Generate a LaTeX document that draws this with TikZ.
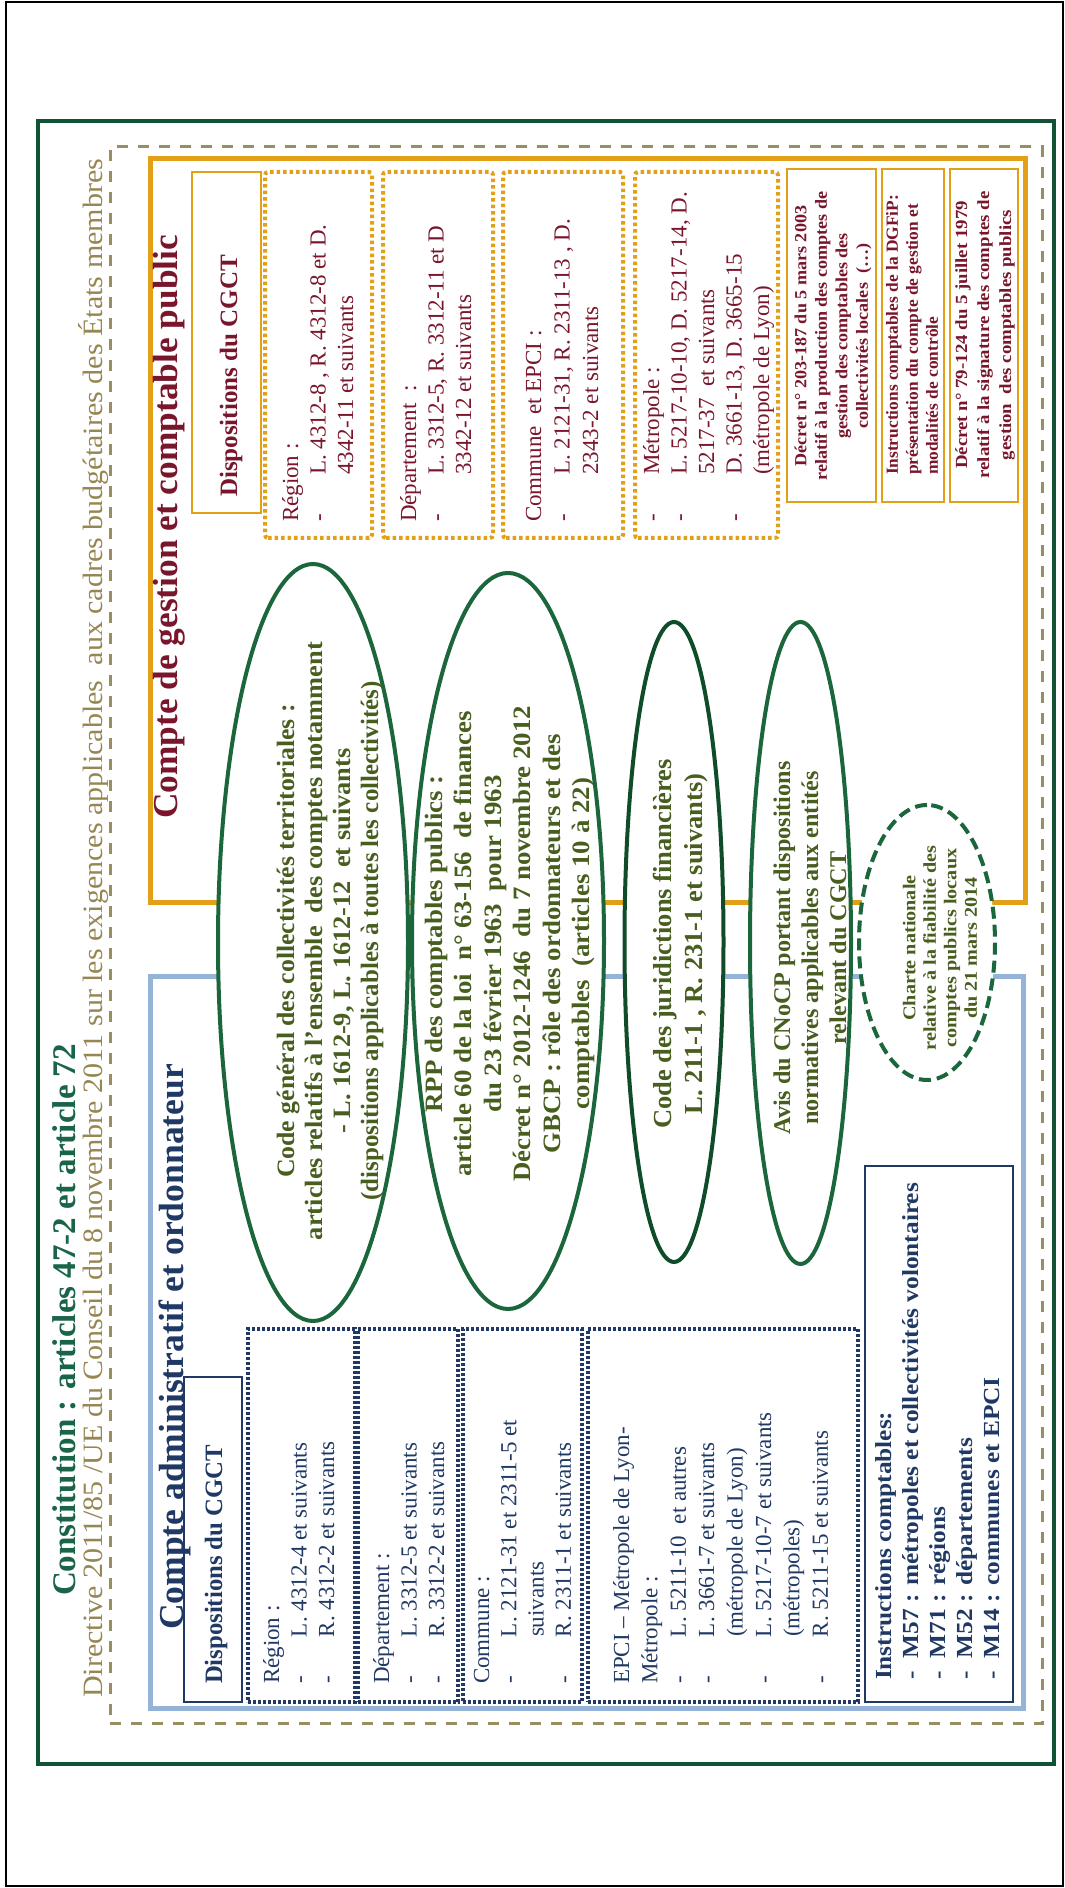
\documentclass[tikz,border=0pt]{standalone}
\usepackage{fontspec}
\setmainfont{Liberation Serif}
\usepackage{graphicx}
\usetikzlibrary{shapes.geometric}

\definecolor{frameG}{RGB}{18,82,52}
\definecolor{dashO}{RGB}{152,142,96}
\definecolor{titleG}{RGB}{26,100,72}
\definecolor{dirO}{RGB}{150,134,82}
\definecolor{navy}{RGB}{31,56,100}
\definecolor{lblue}{RGB}{149,179,215}
\definecolor{gold}{RGB}{226,160,24}
\definecolor{maroon}{RGB}{122,22,44}
\definecolor{eGreen}{RGB}{28,102,60}
\definecolor{eGreenD}{RGB}{14,76,42}
\definecolor{eText}{RGB}{72,94,30}

% text helpers
\newcommand{\fsz}[2]{\fontsize{#1}{#2}\selectfont}
\newcommand{\fitw}[2]{\resizebox{#1pt}{\height}{#2}}
\newcommand{\stackL}[2]{\vtop{\baselineskip=#1pt\lineskiplimit=-\maxdimen\lineskip=0pt\halign{##\hfil\cr#2\crcr}}}
\newcommand{\stackC}[2]{\vbox{\baselineskip=#1pt\lineskiplimit=-\maxdimen\lineskip=0pt\halign{\hfil##\hfil\cr#2\crcr}}}
\newcommand{\itm}[1][47]{\makebox[#1pt][l]{-}}
\newcommand{\cnt}[1][47]{\hspace*{#1pt}}

\tikzset{
  txt/.style={inner sep=0pt, outer sep=0pt},
  ell/.style={ellipse, draw=eGreen, line width=4pt, fill=white, inner sep=0pt},
  navydot/.style={draw=navy, line width=3.5pt, dash pattern=on 3pt off 2pt},
  golddot/.style={draw=gold, line width=4pt, dash pattern=on 3.5pt off 3pt, rounded corners=3pt},
  navythin/.style={draw=navy, line width=1.5pt},
  goldthin/.style={draw=gold, line width=1.5pt},
  navylist/.style={txt, anchor=base west, font=\fsz{23}{27.5}, text=navy},
  goldlist/.style={txt, anchor=base west, font=\fsz{23}{27.5}, text=maroon},
  etxt/.style={txt, text=eText},
  smallbox/.style={txt, font=\bfseries\fsz{17}{20.5}, text=maroon}
}

\begin{document}
\begin{tikzpicture}[x=1pt,y=1pt]
\useasboundingbox (0,0) rectangle (1065,1888);
\fill[white] (0,0) rectangle (1065,1888);
\draw[line width=2pt] (6,2) rectangle (1063,1886);

% the sheet is laid out in landscape and turned a quarter turn
\begin{scope}[rotate=90, transform shape]

% outer frames
\draw[frameG, line width=4.5pt] (124,-38) rectangle (1767,-1054);
\draw[dashO, line width=3pt, dash pattern=on 11pt off 10pt] (164,-110) rectangle (1741,-1042);

% the two panels
\draw[gold, line width=5pt] (985,-150) rectangle (1729,-1025);
\draw[lblue, line width=5pt] (179,-150) rectangle (911,-1023);

% headings
\node[txt, anchor=base west, font=\bfseries\fsz{33}{40}, text=titleG] (title) at (292,-75)
  {\fitw{552}{Constitution : articles 47-2 et article 72}};
\node[txt, anchor=base west, font=\fsz{28}{34}, text=dirO] (directive) at (190,-102)
  {\fitw{1539}{Directive 2011/85 /UE du Conseil du 8 novembre 2011 sur les exigences applicables~ aux cadres budgétaires des États membres}};
\node[txt, anchor=base west, font=\bfseries\fsz{35}{42}, text=navy] (admTitle) at (258,-183)
  {\fitw{566}{Compte administratif et ordonnateur}};
\node[txt, anchor=base west, font=\bfseries\fsz{35}{42}, text=maroon] (gesTitle) at (1069,-177)
  {\fitw{584}{Compte de gestion et comptable public}};

% ---- administrative account panel
\draw[navythin] (186,-184) rectangle (511,-242);
\node[txt, anchor=base west, font=\bfseries\fsz{25}{30}, text=navy] (admDisp) at (204,-222)
  {\fitw{239}{Dispositions du CGCT}};

\draw[navydot] (186,-248) rectangle (559,-355);
\draw[navydot] (186,-358) rectangle (559,-458);
\draw[navydot] (186,-463) rectangle (559,-582);
\draw[navydot] (186,-588) rectangle (559,-858);

\node[navylist] (admReg) at (204,-279)
  {\stackL{27.5}{Région :\cr\itm L. 4312-4 et suivants\cr\itm R. 4312-2 et suivants}};
\node[navylist] (admDep) at (204,-389)
  {\stackL{27.5}{Département :\cr\itm L. 3312-5 et suivants\cr\itm R. 3312-2 et suivants}};
\node[navylist] (admCom) at (204,-489)
  {\stackL{27.3}{Commune :\cr\itm L. 2121-31 et 2311-5 et\cr\cnt suivants\cr\itm R. 2311-1 et suivants}};
\node[navylist] (admEpci) at (204,-629)
  {\stackL{28.4}{EPCI – Métropole de Lyon-\cr Métropole :\cr\itm L. 5211-10~ et autres\cr\itm L. 3661-7 et suivants\cr\cnt (métropole de Lyon)\cr\itm L. 5217-10-7 et suivants\cr\cnt (métropoles)\cr\itm R. 5211-15 et suivants}};

\draw[navythin] (186,-865) rectangle (722,-1013);
\node[txt, anchor=base west, font=\bfseries\fsz{23}{27}, text=navy] (admInstr) at (208,-891)
  {\fitw{497}{\stackL{27}{Instructions comptables:\cr\itm[14] M57 : métropoles et collectivités volontaires\cr\itm[14] M71 : régions\cr\itm[14] M52 : départements\cr\itm[14] M14 : communes et EPCI}}};

% ---- management account panel
\draw[goldthin] (1375,-192) rectangle (1716,-261);
\node[txt, anchor=base west, font=\bfseries\fsz{25}{30}, text=maroon] (gesDisp) at (1391,-237)
  {\fitw{242}{Dispositions du CGCT}};

\draw[golddot] (1350,-265) rectangle (1716,-372);
\draw[golddot] (1350,-383) rectangle (1716,-493);
\draw[golddot] (1350,-503) rectangle (1716,-623);
\draw[golddot] (1350,-635) rectangle (1716,-778);

\node[goldlist] (gesReg) at (1366,-298)
  {\stackL{27.5}{Région :\cr\itm L. 4312-8 , R. 4312-8 et D.\cr\cnt 4342-11 et suivants}};
\node[goldlist] (gesDep) at (1366,-416)
  {\stackL{27.5}{Département~ :\cr\itm L. 3312-5, R. 3312-11 et D\cr\cnt 3342-12 et suivants}};
\node[goldlist] (gesCom) at (1366,-541)
  {\stackL{28.5}{Commune~ et EPCI :\cr\itm L. 2121-31, R. 2311-13 , D.\cr\cnt 2343-2 et suivants}};
\node[goldlist] (gesMet) at (1366,-659)
  {\stackL{27.5}{\itm Métropole :\cr\itm L. 5217-10-10, D. 5217-14, D.\cr\cnt 5217-37~ et suivants\cr\itm D. 3661-13, D. 3665-15\cr\cnt (métropole de Lyon)}};

\draw[goldthin] (1386,-787) rectangle (1719,-876);
\draw[goldthin] (1386,-882) rectangle (1719,-944);
\draw[goldthin] (1386,-950) rectangle (1719,-1018);

\node[smallbox] (decret03) at (1552,-833)
  {\fitw{289}{\stackC{20.5}{Décret n° 203-187 du 5 mars 2003\cr relatif à la production des comptes de\cr gestion des comptables des\cr collectivités locales~ (…)}}};
\node[smallbox, anchor=west] (dgfip) at (1413,-912)
  {\fitw{280}{\stackL{20}{Instructions comptables de la DGFiP:\cr présentation du compte de gestion et\cr modalités de contrôle}}};
\node[smallbox] (decret79) at (1553,-985)
  {\fitw{287}{\stackC{22}{Décret n° 79-124 du 5 juillet 1979\cr relatif à la signature des comptes de\cr gestion~ des comptables publics}}};

% ---- common texts in the middle
\node[ell, minimum width=757pt, minimum height=190pt] (cgct) at (945.5,-313) {};
\node[ell, minimum width=736pt, minimum height=192pt] (rpp) at (947,-508) {};
\node[ell, draw=eGreenD, minimum width=640pt, minimum height=99pt] (cjf) at (946,-674) {};
\node[ell, minimum width=642pt, minimum height=101pt] (cnocp) at (945,-800.5) {};
\node[ell, dash pattern=on 12pt off 6pt, minimum width=275pt, minimum height=136pt] (charte) at (945.5,-927) {};

\node[etxt, font=\bfseries\fsz{25}{27}] (cgctT) at (947,-330)
  {\fitw{598}{\stackC{28}{\fitw{449}{Code général des collectivités territoriales :}\cr articles relatifs à l’ensemble~ des comptes notamment\cr - L. 1612-9, L. 1612-12~ et suivants\cr \fitw{492}{(dispositions applicables à toutes les collectivités)}}}};
\node[etxt, font=\bfseries\fsz{25}{29}] (rppT) at (944,-510)
  {\fitw{476}{\stackC{29.5}{RPP des comptables publics :\cr article 60 de la loi~ n° 63-156~ de finances\cr du 23 février 1963~ pour 1963\cr Décret n° 2012-1246~ du 7 novembre 2012\cr GBCP : rôle des ordonnateurs et des\cr comptables~ (articles 10 à 22)}}};
\node[etxt, font=\bfseries\fsz{26}{31}] (cjfT) at (944,-681)
  {\fitw{370}{\stackC{31}{Code des juridictions financières\cr L. 211-1 , R. 231-1 et suivants)}}};
\node[etxt, font=\bfseries\fsz{24}{28}] (cnocpT) at (940,-810)
  {\fitw{373}{\stackC{28}{Avis du CNoCP portant dispositions\cr normatives applicables aux entités\cr relevant du CGCT}}};
\node[etxt, font=\bfseries\fsz{18}{20.5}] (charteT) at (940,-940)
  {\fitw{205}{\stackC{20.5}{Charte nationale\cr relative à la fiabilité des\cr comptes publics locaux\cr du 21 mars 2014}}};

\end{scope}
\end{tikzpicture}
\end{document}
